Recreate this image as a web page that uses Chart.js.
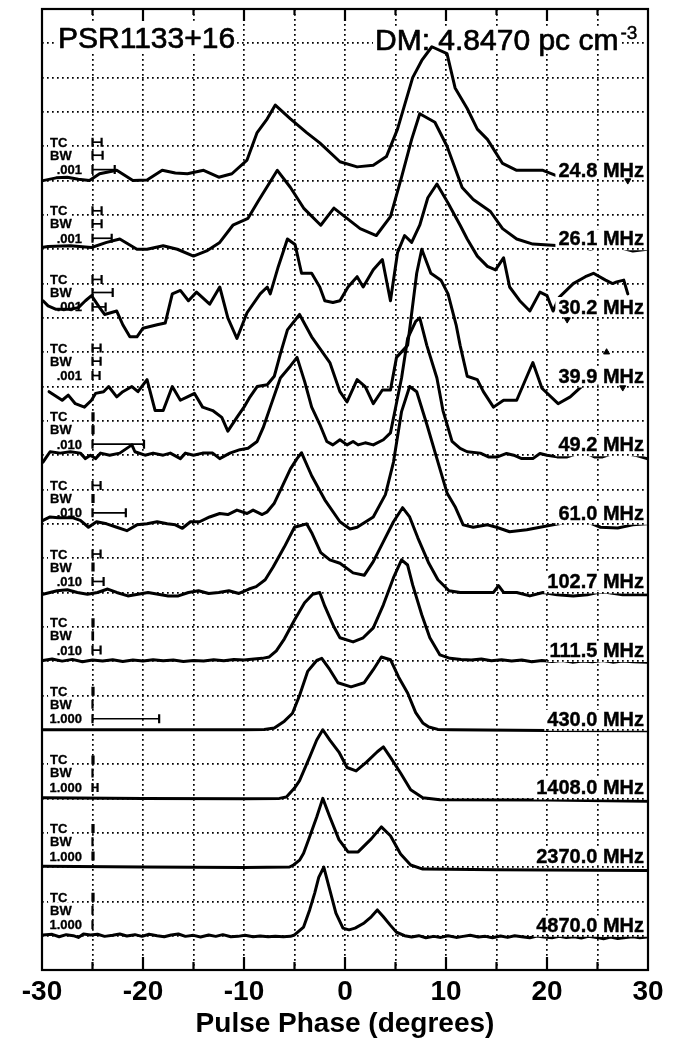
<!DOCTYPE html>
<html>
<head>
<meta charset="utf-8">
<title>PSR1133+16 profiles</title>
<script src="https://cdn.jsdelivr.net/npm/chart.js@4.4.1/dist/chart.umd.min.js"></script>
<style>
  html, body { margin: 0; padding: 0; background: #fff; }
  canvas { display: block; }
</style>
</head>
<body>
<canvas id="profiles" width="680" height="1042"></canvas>
<script>
// profile intensities, in grid units above each profile's own baseline
const prof24_8 = [[-29.9,0.0],[-28.6,0.08],[-27.5,0.1],[-26.4,0.04],[-25.3,0.0],[-24.3,0.2],[-22.6,0.3],[-21.0,0.0],[-19.6,0.02],[-18.1,0.3],[-16.8,0.22],[-15.6,0.2],[-14.0,0.3],[-12.5,0.1],[-11.2,0.2],[-9.7,0.6],[-8.7,1.4],[-7.7,1.8],[-6.9,2.2],[-5.4,1.8],[-3.8,1.4],[-2.5,1.1],[-0.5,0.55],[1.2,0.4],[2.8,0.45],[4.1,0.7],[5.2,1.5],[6.7,3.0],[7.6,3.5],[8.6,3.9],[10.1,3.7],[10.9,2.7],[12.1,2.1],[13.1,1.5],[14.1,1.2],[15.6,0.5],[17.0,0.3],[19.6,0.3],[21.3,0.1],[22.2,0.1]];
const prof26_1 = [[-29.9,0.06],[-29.4,0.08],[-27.2,0.1],[-25.1,0.05],[-23.6,0.2],[-22.3,0.3],[-20.6,0.0],[-19.6,0.0],[-18.0,0.1],[-16.6,0.0],[-15.0,-0.2],[-13.7,-0.05],[-12.4,0.2],[-11.1,0.7],[-9.6,0.9],[-8.6,1.4],[-6.7,2.3],[-5.4,1.8],[-4.1,1.2],[-2.4,0.7],[-1.1,1.2],[0.2,0.9],[1.5,0.6],[3.1,0.4],[4.5,0.95],[5.6,2.1],[6.6,3.2],[7.4,3.95],[8.9,3.7],[10.1,3.0],[11.6,1.8],[12.7,1.45],[14.4,1.1],[15.6,0.6],[17.0,0.3],[18.6,0.15],[21.3,0.1],[23.1,0.1],[24.3,0.0],[25.5,0.1],[27.2,0.05],[28.5,-0.05],[29.9,0.0]];
const prof30_2 = [[-29.9,0.5],[-29.4,0.35],[-28.6,0.25],[-27.2,0.25],[-26.4,0.3],[-25.7,0.5],[-25.1,0.65],[-24.3,0.3],[-23.8,0.1],[-22.6,0.2],[-22.0,-0.2],[-21.3,-0.55],[-20.6,-0.55],[-20.0,-0.3],[-18.6,-0.2],[-17.8,-0.15],[-17.1,0.7],[-16.3,0.8],[-15.5,0.5],[-14.7,0.75],[-13.4,0.4],[-12.4,0.9],[-11.6,0.0],[-10.7,-0.6],[-9.7,0.15],[-8.4,0.7],[-7.7,0.9],[-7.4,0.7],[-6.6,1.5],[-5.7,2.3],[-4.95,2.14],[-4.3,1.3],[-3.3,1.3],[-2.5,0.9],[-2.0,0.5],[-1.2,0.45],[-0.5,0.5],[0.3,0.9],[1.2,1.2],[1.8,0.9],[2.8,1.4],[3.7,1.7],[4.5,0.5],[5.2,1.9],[5.9,2.4],[6.6,2.2],[7.4,2.7],[8.2,3.5],[9.1,3.9],[10.2,3.35],[11.4,2.7],[12.1,2.3],[13.1,1.8],[14.1,1.5],[14.9,1.4],[15.7,1.75],[16.3,0.9],[17.3,0.5],[18.3,0.2],[19.3,0.75],[20.0,0.65],[20.6,0.2],[21.2,0.6],[22.6,1.0],[23.8,1.2],[24.6,1.3],[25.8,1.1],[26.5,1.0],[26.9,1.05],[27.6,1.1],[28.0,0.7]];
const prof39_9 = [[-29.3,-0.15],[-28.0,-0.4],[-27.4,-0.25],[-26.7,-0.5],[-25.8,-0.6],[-25.1,-0.4],[-24.7,-0.2],[-23.9,-0.15],[-23.4,0.0],[-22.6,-0.3],[-22.0,-0.15],[-21.1,0.0],[-20.5,-0.15],[-19.6,0.2],[-18.8,-0.7],[-18.0,-0.7],[-17.1,0.0],[-16.3,-0.4],[-15.6,-0.3],[-14.9,-0.2],[-14.1,-0.6],[-13.1,-0.7],[-12.2,-0.9],[-11.6,-1.3],[-10.7,-0.9],[-10.0,-0.6],[-9.4,-0.3],[-8.7,0.0],[-7.7,0.05],[-7.0,0.3],[-6.4,0.95],[-5.7,1.65],[-4.5,2.1],[-3.3,1.45],[-1.5,0.7],[-0.5,-0.15],[0.2,-0.45],[1.2,0.2],[2.0,0.0],[2.8,-0.5],[3.7,-0.1],[4.5,-0.1],[5.1,0.85],[6.2,1.2],[7.1,3.3],[7.6,4.0],[8.5,3.3],[9.5,3.1],[10.2,2.7],[11.0,1.8],[11.4,1.2],[12.1,0.3],[13.1,0.2],[13.7,-0.15],[14.7,-0.6],[15.7,-0.4],[17.0,-0.4],[18.6,0.7],[19.5,-0.05],[21.1,-0.5],[22.3,-0.3],[23.6,0.05]];
const prof49_2 = [[-29.9,-0.2],[-29.2,0.1],[-28.2,0.06],[-27.2,0.1],[-26.2,0.06],[-25.7,-0.1],[-25.2,0.0],[-24.7,-0.1],[-24.2,0.06],[-23.3,0.0],[-22.3,0.06],[-21.1,0.3],[-20.8,0.1],[-19.8,0.0],[-19.0,0.06],[-18.0,0.0],[-17.3,0.06],[-16.3,-0.1],[-15.8,0.06],[-15.0,0.0],[-14.1,0.06],[-13.1,0.06],[-12.4,-0.1],[-11.4,0.06],[-10.4,0.16],[-9.6,0.2],[-8.7,0.4],[-8.1,0.8],[-7.4,1.4],[-6.4,2.25],[-5.4,2.6],[-4.75,2.85],[-4.0,2.15],[-3.3,1.4],[-2.5,0.9],[-1.8,0.4],[-1.2,0.3],[-0.5,0.45],[0.2,0.3],[0.8,0.4],[1.3,0.3],[2.0,0.36],[2.8,0.3],[3.8,0.45],[4.5,0.65],[4.95,1.3],[5.6,2.25],[6.2,3.4],[7.0,3.9],[7.4,4.0],[8.1,3.2],[9.1,2.25],[9.7,1.3],[10.6,0.4],[11.4,0.2],[12.1,0.1],[13.4,0.06],[14.2,-0.05],[15.1,-0.05],[16.0,0.05],[16.7,0.0],[17.5,-0.1],[18.6,-0.1],[19.3,0.05],[20.0,0.0],[21.0,-0.05],[22.0,-0.05],[23.0,0.05],[23.9,0.06],[24.7,-0.05],[25.5,-0.05],[26.5,0.05],[27.5,0.06],[28.7,0.0],[29.9,-0.1]];
const prof61_0 = [[-29.9,0.1],[-29.2,0.2],[-28.4,0.18],[-27.0,0.18],[-26.2,0.1],[-25.4,-0.1],[-24.6,0.06],[-23.6,0.0],[-22.6,-0.1],[-21.6,-0.2],[-20.6,-0.03],[-19.6,0.0],[-18.6,0.06],[-17.6,0.0],[-16.8,-0.03],[-16.1,-0.13],[-15.3,0.06],[-14.4,0.06],[-13.4,0.2],[-12.4,0.3],[-11.6,0.27],[-10.7,0.4],[-9.7,0.3],[-9.1,0.4],[-8.2,0.27],[-7.7,0.35],[-7.0,0.6],[-6.2,1.1],[-5.4,1.6],[-4.75,1.9],[-4.3,2.07],[-3.3,1.4],[-2.0,0.7],[-0.5,0.06],[0.5,-0.15],[1.2,-0.1],[2.8,0.2],[4.0,0.85],[4.8,1.8],[5.6,3.27],[6.4,4.0],[7.1,3.85],[8.1,2.9],[9.1,1.9],[10.1,0.9],[10.9,0.5],[11.7,-0.03],[12.7,-0.1],[14.1,-0.03],[15.0,-0.1],[16.3,-0.23],[18.0,-0.17],[19.3,-0.1],[20.6,-0.03],[22.3,0.06],[24.0,0.06],[25.3,-0.1],[27.0,-0.12],[28.5,-0.03],[29.9,0.0]];
const prof102_7 = [[-29.9,-0.05],[-28.5,0.05],[-27.5,0.08],[-26.5,0.0],[-25.5,-0.05],[-24.5,0.0],[-23.5,0.1],[-22.6,0.0],[-21.5,-0.1],[-20.5,-0.05],[-19.5,0.0],[-18.5,-0.05],[-17.5,-0.1],[-16.5,-0.1],[-15.5,0.0],[-14.5,0.05],[-13.5,-0.03],[-12.5,0.0],[-11.5,0.05],[-10.5,-0.03],[-9.5,0.1],[-8.8,0.17],[-7.9,0.37],[-7.1,0.75],[-6.0,1.33],[-5.0,1.9],[-3.8,2.0],[-3.3,1.74],[-2.4,1.16],[-1.5,0.95],[-0.5,0.85],[0.8,0.57],[1.9,0.5],[2.8,0.9],[3.8,1.48],[4.8,2.06],[5.7,2.47],[6.4,2.2],[7.2,1.6],[8.3,0.85],[9.2,0.37],[10.3,0.05],[11.4,0.0],[13.4,0.0],[14.7,0.0],[15.2,0.2],[15.7,0.0],[17.0,0.0],[18.3,-0.1],[19.6,0.0],[21.0,-0.07],[22.6,-0.1],[24.0,-0.07],[25.0,0.0],[26.0,0.0],[27.5,-0.07],[29.9,-0.07]];
const prof111_5 = [[-29.9,0.02],[-29.0,0.06],[-28.0,0.0],[-27.0,0.05],[-26.0,-0.02],[-25.0,0.03],[-24.0,0.0],[-23.0,0.04],[-22.0,-0.01],[-21.0,0.03],[-20.0,0.0],[-19.0,0.04],[-18.0,0.01],[-17.0,0.03],[-16.0,-0.01],[-15.0,0.02],[-14.0,0.0],[-13.0,0.04],[-12.0,0.01],[-11.0,0.05],[-10.0,0.03],[-9.0,0.06],[-8.2,0.08],[-7.5,0.12],[-6.8,0.3],[-6.0,0.65],[-5.0,1.2],[-4.0,1.7],[-3.2,1.95],[-2.5,2.0],[-2.0,1.6],[-1.1,1.0],[-0.5,0.68],[0.8,0.56],[1.8,0.68],[2.8,0.97],[3.8,1.64],[4.8,2.43],[5.6,2.95],[6.2,2.8],[6.7,2.22],[7.6,1.35],[8.4,0.68],[9.4,0.18],[10.4,0.08],[11.5,0.05],[12.5,0.03],[13.5,0.06],[14.5,0.01],[15.5,0.04],[16.5,0.0],[17.5,0.03],[18.5,-0.02],[19.5,0.02],[20.5,-0.01],[21.5,0.02],[22.5,-0.03],[23.5,0.0],[24.5,-0.02],[25.5,0.02],[26.5,-0.03],[27.5,0.0],[28.5,-0.02],[29.9,-0.03]];
const prof430_0 = [[-29.9,0.0],[-20.0,0.0],[-10.0,0.0],[-8.0,0.01],[-7.0,0.05],[-6.0,0.25],[-5.2,0.48],[-4.5,1.0],[-3.7,1.7],[-2.8,2.02],[-2.3,2.08],[-1.5,1.75],[-0.7,1.37],[0.6,1.25],[1.9,1.37],[2.8,1.75],[3.6,2.12],[4.5,2.04],[5.3,1.54],[6.2,1.07],[7.0,0.5],[7.7,0.2],[8.3,0.08],[9.2,0.01],[10.5,0.0],[20.0,-0.02],[29.9,-0.03]];
const prof1408_0 = [[-29.9,0.02],[-20.0,0.0],[-10.0,-0.01],[-6.5,0.0],[-5.8,0.04],[-5.0,0.3],[-4.5,0.52],[-3.5,1.2],[-2.8,1.7],[-2.2,2.0],[-1.5,1.7],[-0.6,1.35],[0.2,0.9],[1.1,0.8],[2.1,1.05],[3.2,1.36],[3.8,1.5],[4.6,1.15],[5.5,0.74],[6.5,0.25],[7.7,0.02],[9.4,-0.04],[20.0,-0.05],[29.9,-0.08]];
const prof2370_0 = [[-29.9,0.02],[-20.0,0.0],[-10.0,-0.01],[-5.5,0.0],[-5.1,0.06],[-4.5,0.2],[-4.1,0.4],[-3.5,0.88],[-2.8,1.46],[-2.2,2.0],[-1.5,1.46],[-0.6,0.8],[0.3,0.44],[1.3,0.44],[2.6,0.82],[3.6,1.17],[4.5,0.91],[5.5,0.38],[6.5,0.06],[7.7,-0.06],[15.0,-0.08],[29.9,-0.1]];
const prof4870_0 = [[-29.9,0.02],[-29.0,0.04],[-28.3,-0.03],[-27.6,0.03],[-26.9,0.0],[-26.4,-0.05],[-25.9,0.05],[-25.2,0.02],[-24.5,0.04],[-23.8,-0.02],[-23.0,0.01],[-22.3,0.05],[-21.6,-0.01],[-20.8,0.03],[-20.1,-0.02],[-19.4,0.04],[-18.6,0.0],[-17.9,-0.03],[-17.2,0.02],[-16.5,0.05],[-15.8,-0.02],[-15.0,0.01],[-14.3,-0.04],[-13.5,0.02],[-12.8,-0.02],[-12.1,0.03],[-11.3,-0.03],[-10.6,-0.02],[-9.9,0.01],[-9.1,-0.03],[-8.4,-0.01],[-7.6,-0.03],[-6.9,-0.02],[-6.1,-0.03],[-5.4,-0.02],[-5.0,0.02],[-4.1,0.25],[-3.5,0.75],[-3.0,1.24],[-2.6,1.7],[-2.1,2.0],[-1.5,1.33],[-0.9,0.66],[-0.2,0.22],[0.4,0.17],[1.0,0.22],[1.9,0.37],[2.6,0.55],[3.2,0.75],[3.8,0.55],[4.5,0.3],[5.1,0.1],[5.9,0.0],[6.6,-0.04],[7.3,0.0],[8.0,-0.06],[8.8,-0.02],[9.5,-0.05],[10.2,0.0],[11.0,-0.05],[11.7,-0.02],[12.4,0.01],[13.2,-0.04],[13.9,-0.02],[14.6,-0.06],[15.4,-0.01],[16.1,-0.05],[16.8,0.0],[17.5,-0.03],[18.3,-0.06],[19.0,-0.01],[19.7,-0.04],[20.5,-0.06],[21.2,-0.02],[21.9,-0.05],[22.7,-0.03],[23.4,-0.07],[24.1,-0.02],[24.9,-0.05],[25.6,-0.09],[26.3,-0.04],[27.0,-0.08],[27.8,-0.05],[28.5,-0.03],[29.2,-0.06],[29.9,-0.04]];

const profiles = [prof24_8, prof26_1, prof30_2, prof39_9, prof49_2, prof61_0, prof102_7, prof111_5, prof430_0, prof1408_0, prof2370_0, prof4870_0];
const freqLabels = ['24.8 MHz', '26.1 MHz', '30.2 MHz', '39.9 MHz', '49.2 MHz', '61.0 MHz', '102.7 MHz', '111.5 MHz', '430.0 MHz', '1408.0 MHz', '2370.0 MHz', '4870.0 MHz'];
const offsets = [23, 21, 19, 17, 15, 13, 11, 9, 7, 5, 3, 1];

// smearing bars (degrees) drawn next to the TC / BW / scale labels
const tcBars = [0.9, 0.9, 0.9, 0.8, 0.1, 0.8, 0.8, 0.1, 0.1, 0.1, 0.1, 0.1];
const bwBars = [1.0, 0.9, 2.0, 0.8, 0.1, 0.1, 0.1, 0.05, 0, 0, 0, 0];
const scaleBars = [2.2, 1.9, 1.3, 0.7, 5.1, 3.3, 1.1, 0.8, 6.6, 0.5, 0.1, 0];
const scaleLabels = ['.001', '.001', '.001', '.001', '.010', '.010', '.010', '.010', '1.000', '1.000', '1.000', '1.000'];

// off-scale markers [phase, y]
const downMarks = [[28.0, 23.0], [22.0, 18.95], [27.5, 16.97]];
const upMarks = [[25.9, 18.0]];

const xTicks = [-30, -25, -20, -15, -10, -5, 0, 5, 10, 15, 20, 25, 30];

const FONT = '"Liberation Sans", Arial, Helvetica, sans-serif';
const LABEL_FONT = 'bold 20px ' + FONT;

function freqBoxes(chart) {
  const { ctx, chartArea, scales } = chart;
  ctx.save();
  ctx.font = LABEL_FONT;
  const boxes = freqLabels.map((t, i) => {
    const w = ctx.measureText(t).width;
    const base = scales.y.getPixelForValue(offsets[i]) - 4;
    return { t, x: chartArea.right - 4 - w, base, w };
  });
  ctx.restore();
  return boxes;
}

// text on a white patch; heavy adds a thin outline to thicken the glyphs
function whiteText(ctx, text, x, y, up, down, heavy) {
  const w = ctx.measureText(text).width;
  const left = ctx.textAlign === 'right' ? x - w : x;
  ctx.fillStyle = '#fff';
  ctx.fillRect(left - 2, y - up, w + 4, up + down);
  ctx.fillStyle = '#000';
  ctx.fillText(text, x, y);
  if (heavy) {
    ctx.strokeStyle = '#000';
    ctx.lineWidth = heavy;
    ctx.strokeText(text, x, y);
  }
}

const overlay = {
  id: 'overlay',
  beforeDatasetsDraw(chart) {
    const { ctx, scales } = chart;
    const y = scales.y;
    ctx.save();
    ctx.textBaseline = 'alphabetic';
    ctx.lineJoin = 'round';

    // header
    ctx.font = '30px ' + FONT;
    ctx.textAlign = 'left';
    whiteText(ctx, 'PSR1133+16', 58, 48, 24, 4, 0.7);
    const dm = 'DM: 4.8470 pc cm';
    whiteText(ctx, dm, 375, 50, 24, 3, 0.7);
    const dmw = ctx.measureText(dm).width;
    ctx.font = '19px ' + FONT;
    whiteText(ctx, '-3', 375 + dmw + 2, 39, 14, 2, 0.5);

    // TC / BW / scale labels
    ctx.font = 'bold 13px ' + FONT;
    offsets.forEach((off, i) => {
      ctx.textAlign = 'left';
      whiteText(ctx, 'TC', 50, y.getPixelForValue(off + 1.12) + 4.5, 10, 1, 0.3);
      whiteText(ctx, 'BW', 50, y.getPixelForValue(off + 0.74) + 4.5, 10, 1, 0.3);
      ctx.textAlign = 'right';
      whiteText(ctx, scaleLabels[i], 82, y.getPixelForValue(off + 0.32) + 4.5, 10, 1, 0.3);
    });

    // frequency label backgrounds (grid only)
    ctx.fillStyle = '#fff';
    freqBoxes(chart).forEach(b => ctx.fillRect(b.x - 2, b.base - 16, b.w + 4, 18));
    ctx.restore();
  },
  beforeDatasetDraw(chart, args) {
    if (args.index >= profiles.length) return;
    const { ctx } = chart;
    ctx.save();
    ctx.beginPath();
    ctx.rect(0, 0, chart.width, chart.height);
    freqBoxes(chart).forEach(b => ctx.rect(b.x - 3, b.base - 17, b.w + 8, 22));
    ctx.clip('evenodd');
  },
  afterDatasetDraw(chart, args) {
    if (args.index >= profiles.length) return;
    chart.ctx.restore();
  },
  afterDatasetsDraw(chart) {
    const { ctx, chartArea: a, scales } = chart;
    const x = scales.x, y = scales.y;
    ctx.save();

    // frequency labels
    ctx.font = LABEL_FONT;
    ctx.fillStyle = '#000';
    ctx.strokeStyle = '#000';
    ctx.lineWidth = 0.4;
    ctx.textAlign = 'left';
    ctx.textBaseline = 'alphabetic';
    freqBoxes(chart).forEach(b => { ctx.fillText(b.t, b.x, b.base); ctx.strokeText(b.t, b.x, b.base); });

    // I-beam bars
    const bar = (w, py) => {
      const x0 = x.getPixelForValue(-25), x1 = x.getPixelForValue(-25 + w);
      ctx.lineWidth = 1.7;
      ctx.beginPath(); ctx.moveTo(x0, py); ctx.lineTo(x1, py); ctx.stroke();
      ctx.lineWidth = 2.2;
      ctx.beginPath();
      ctx.moveTo(x0, py - 4.5); ctx.lineTo(x0, py + 4.5);
      ctx.moveTo(x1, py - 4.5); ctx.lineTo(x1, py + 4.5);
      ctx.stroke();
    };
    offsets.forEach((off, i) => {
      bar(tcBars[i], y.getPixelForValue(off + 1.12));
      bar(bwBars[i], y.getPixelForValue(off + 0.74));
      bar(scaleBars[i], y.getPixelForValue(off + 0.32));
    });

    // inward ticks, top and bottom
    ctx.lineWidth = 2.2;
    ctx.beginPath();
    xTicks.slice(1, -1).forEach(v => {
      const px = x.getPixelForValue(v);
      const major = v % 10 === 0;
      ctx.moveTo(px, a.bottom); ctx.lineTo(px, a.bottom - (major ? 13 : 8));
      ctx.moveTo(px, a.top); ctx.lineTo(px, a.top + (major ? 12 : 6));
    });
    ctx.stroke();

    // frame
    ctx.lineWidth = 2.2;
    ctx.strokeRect(a.left, a.top, a.right - a.left, a.bottom - a.top);
    ctx.restore();
  }
};

const datasets = profiles.map((p, i) => ({
  label: freqLabels[i],
  data: p.map(([px, v]) => ({ x: px, y: v + offsets[i] })),
  borderColor: '#000',
  borderWidth: 3,
  borderJoinStyle: 'round',
  borderCapStyle: 'round',
  pointRadius: 0,
  tension: 0,
  fill: false
}));
datasets.push({
  type: 'scatter',
  data: downMarks.map(([px, py]) => ({ x: px, y: py })).concat(upMarks.map(([px, py]) => ({ x: px, y: py }))),
  pointStyle: 'triangle',
  rotation: downMarks.map(() => 180).concat(upMarks.map(() => 0)),
  pointRadius: 3.5,
  backgroundColor: '#000',
  borderColor: '#000',
  showLine: false
});

const chart = new Chart(document.getElementById('profiles'), {
  type: 'line',
  data: { datasets },
  options: {
    responsive: false,
    animation: false,
    devicePixelRatio: 1,
    layout: { padding: { left: 42, right: 32, top: 9, bottom: 4 } },
    plugins: { legend: { display: false }, tooltip: { enabled: false } },
    scales: {
      x: {
        type: 'linear',
        min: -30,
        max: 30,
        afterBuildTicks: s => { s.ticks = xTicks.map(v => ({ value: v })); },
        afterFit: s => { s.height = 68; },
        grid: { color: '#000', lineWidth: 1.7, drawTicks: false },
        border: { display: false, dash: [1.7, 3.3] },
        ticks: {
          autoSkip: false,
          maxRotation: 0,
          padding: 8,
          color: '#000',
          font: { family: FONT, size: 28, weight: 'bold', lineHeight: 1 },
          callback: v => (v % 10 === 0 ? String(v) : '')
        },
        title: {
          display: true,
          text: 'Pulse Phase (degrees)',
          color: '#000',
          font: { family: FONT, size: 28, weight: 'bold', lineHeight: 1 },
          padding: { top: 2, bottom: 0 }
        }
      },
      y: {
        min: 0,
        max: 28,
        afterFit: s => { s.width = 0; },
        grid: { color: '#000', lineWidth: 1.7, drawTicks: false },
        border: { display: false, dash: [1.7, 3.3] },
        ticks: { display: false, stepSize: 1 }
      }
    }
  },
  plugins: [overlay]
});
</script>
</body>
</html>
